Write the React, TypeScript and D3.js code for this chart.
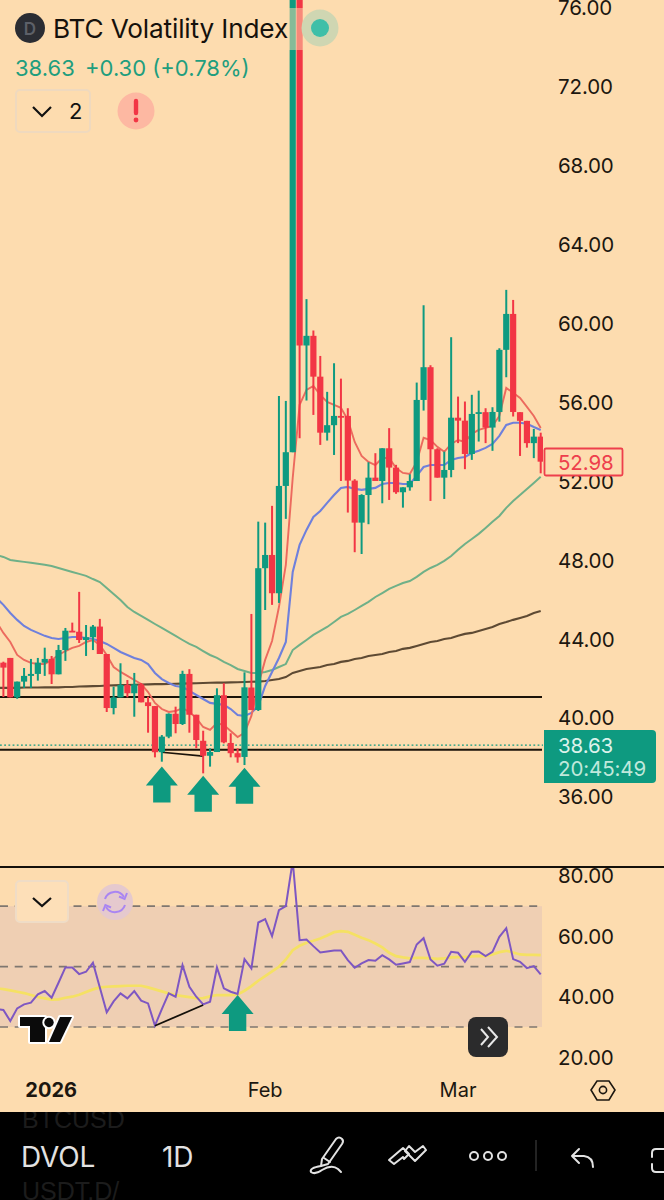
import React from "react";
import * as d3 from "d3";

const opens = [42.81,43.05,41.05,41.85,42.14,42.24,42.81,43.00,42.22,43.45,44.43,44.38,43.96,44.10,44.64,43.25,40.51,41.05,41.68,41.26,41.71,40.80,40.61,38.27,39.06,40.22,39.70,42.24,40.17,38.85,38.09,38.28,41.16,38.74,38.22,38.03,41.55,40.41,47.60,48.27,46.33,51.77,53.48,82.00,58.89,59.38,57.31,54.47,54.85,55.32,55.32,52.04,49.91,51.31,52.19,52.02,53.68,52.70,51.45,51.70,52.02,56.13,57.79,53.63,52.19,52.58,55.23,55.08,53.39,55.42,55.51,54.73,55.52,58.67,60.49,55.51,55.07,53.94,54.27];
const highs = [42.86,43.05,41.85,42.54,43.00,43.05,43.57,43.15,43.71,44.57,44.84,46.40,44.72,44.72,45.03,43.25,41.59,42.78,41.93,42.29,41.78,41.09,40.61,39.14,40.24,40.58,42.40,42.48,40.17,39.36,38.47,41.51,41.77,39.23,38.47,42.32,45.28,49.96,49.91,50.76,56.33,56.08,88.00,85.00,61.24,59.65,58.36,56.54,57.99,57.21,55.71,52.11,51.35,52.97,53.43,53.68,54.70,52.84,51.70,52.36,57.01,60.93,57.89,53.68,53.51,59.31,56.30,56.05,56.39,56.60,55.71,55.76,58.75,61.71,61.20,55.51,55.07,54.66,54.47];
const lows = [41.07,41.05,40.98,41.53,41.53,41.90,42.14,41.73,42.22,42.90,44.38,43.81,43.15,43.45,43.25,40.31,40.19,41.05,41.05,40.07,40.80,39.26,38.01,37.79,38.98,39.23,39.65,39.26,38.47,37.20,37.54,38.28,38.72,38.01,37.74,37.62,40.41,40.36,45.48,45.74,45.84,50.10,53.48,54.19,56.10,55.37,53.85,54.07,53.34,52.02,50.42,48.41,48.32,49.83,52.02,50.89,51.06,51.37,50.67,51.53,52.02,55.59,51.01,52.19,51.11,52.21,53.94,52.62,53.09,54.02,53.94,53.55,55.03,57.28,55.29,53.29,53.71,53.18,52.41];
const closes = [42.56,41.05,41.85,42.14,42.24,42.81,43.00,42.22,43.45,44.43,44.38,43.96,44.10,44.64,43.25,40.51,41.05,41.68,41.26,41.71,40.80,40.61,38.27,39.06,40.22,39.70,42.24,40.17,38.89,38.09,38.28,41.16,38.77,38.22,38.01,41.56,40.41,47.60,48.27,46.33,51.77,53.48,82.00,58.89,59.38,57.31,54.47,54.85,55.32,55.27,52.04,49.91,51.31,52.19,52.02,53.68,52.70,51.45,51.70,52.02,56.13,57.79,53.63,52.19,52.58,55.23,55.08,53.39,55.42,55.51,54.73,55.52,58.67,60.49,55.52,55.07,53.94,54.27,53.00];

// moving averages: the first value belongs to the bar just left of the picture
const maFast = [44.87,44.32,43.86,43.20,42.95,42.80,42.74,42.74,42.95,43.20,43.40,43.56,43.66,43.86,43.96,43.71,43.20,42.59,42.34,42.14,41.93,41.73,41.32,40.77,40.46,40.31,40.36,40.51,40.31,40.00,39.55,39.40,39.75,39.65,39.35,39.04,39.25,40.11,41.68,42.95,43.91,45.63,47.77,52.18,55.88,56.64,56.84,56.39,56.03,55.88,55.73,55.12,54.00,53.29,52.99,52.83,53.19,53.19,52.68,52.43,52.38,52.99,54.21,54.10,53.75,53.50,53.90,54.10,54.00,54.41,54.61,54.71,54.81,55.32,56.74,56.49,56.23,55.78,55.32,54.71];
const maMid = [46.09,45.74,45.33,44.98,44.67,44.47,44.32,44.17,44.06,44.01,44.06,44.11,44.11,44.06,44.01,43.91,43.76,43.56,43.35,43.20,43.05,42.95,42.74,42.29,41.98,41.78,41.63,41.58,41.38,41.17,40.97,40.77,40.72,40.67,40.46,40.16,40.11,40.26,40.62,41.63,42.34,43.05,43.86,47.41,48.78,49.54,50.20,50.50,50.91,51.31,51.67,51.72,51.62,51.57,51.62,51.67,51.87,51.92,51.92,51.87,51.87,52.28,52.73,52.83,52.83,52.83,53.09,53.19,53.24,53.44,53.55,53.70,53.90,54.31,54.86,54.97,54.97,54.92,54.76,54.61];
const maSlow = [48.27,48.17,48.02,47.97,47.92,47.87,47.82,47.77,47.71,47.61,47.51,47.41,47.31,47.21,47.05,46.90,46.60,46.29,45.99,45.63,45.38,45.18,44.98,44.77,44.57,44.37,44.17,43.96,43.76,43.61,43.40,43.20,43.05,42.85,42.69,42.49,42.39,42.29,42.29,42.34,42.44,42.59,42.74,43.45,43.71,43.96,44.22,44.42,44.62,44.87,45.13,45.28,45.48,45.69,45.89,46.14,46.34,46.55,46.70,46.85,46.95,47.16,47.41,47.61,47.77,47.97,48.22,48.53,48.83,49.08,49.34,49.64,49.95,50.25,50.66,51.01,51.31,51.62,51.92,52.23];
const maLong = [41.53,41.53,41.53,41.53,41.55,41.55,41.55,41.56,41.56,41.56,41.58,41.58,41.60,41.61,41.62,41.63,41.65,41.66,41.67,41.68,41.69,41.70,41.71,41.72,41.72,41.73,41.74,41.75,41.76,41.77,41.78,41.79,41.80,41.80,41.81,41.82,41.83,41.84,41.85,41.88,41.93,41.98,42.08,42.29,42.39,42.49,42.54,42.59,42.69,42.74,42.85,42.90,43.00,43.05,43.15,43.20,43.25,43.35,43.40,43.51,43.56,43.66,43.76,43.86,43.91,44.01,44.06,44.17,44.27,44.32,44.42,44.52,44.62,44.77,44.87,44.98,45.08,45.18,45.33,45.43];

const rsi = [35.95,35.62,31.98,36.17,37.49,38.04,40.80,41.90,39.70,44.66,49.72,49.72,47.52,48.29,51.27,43.11,34.85,38.48,41.13,39.48,41.90,38.71,37.82,30.44,35.95,41.13,40.03,50.50,43.33,40.03,37.49,38.37,49.72,42.78,41.68,40.91,52.48,49.39,64.60,65.70,60.08,68.68,70.00,85.00,58.76,58.98,56.78,54.68,55.01,55.34,55.34,52.15,49.61,51.05,52.15,51.93,53.80,52.37,50.61,51.05,51.49,57.33,59.42,52.37,50.28,50.94,54.90,54.57,51.60,54.90,55.01,53.47,54.90,59.86,62.73,52.48,51.60,49.50,50.17,47.41];
const rsiMa = [42.78,42.56,42.12,41.68,41.24,40.58,39.92,39.48,39.04,39.15,39.70,40.03,40.69,41.57,42.45,43.11,43.33,43.44,43.55,43.66,43.66,43.66,43.11,42.45,41.79,41.13,40.58,40.25,39.92,39.48,39.59,40.14,40.58,40.58,40.58,40.80,42.01,43.55,45.32,46.86,48.40,49.94,52.37,55.45,56.89,57.88,58.54,59.31,60.30,61.40,61.74,61.52,60.52,59.53,58.76,57.66,56.34,54.57,53.47,53.03,52.70,52.92,52.92,52.70,52.59,52.70,53.03,53.14,53.14,53.36,53.58,53.47,54.02,54.79,55.23,54.68,54.02,53.91,53.91,53.80];

const priceTicks = [76, 72, 68, 64, 60, 56, 52, 48, 44, 40, 36];
const rsiTicks = [80, 60, 40, 20];
const rsiLevels = [70, 50, 30];
const timeLabels = [{ text: "2026", bar: 2, bold: true }, { text: "Feb", bar: 38, bold: false }, { text: "Mar", bar: 66, bold: false }];
const supportLevels = [41.07, 38.39];
const lastPriceLevel = 38.63;
const arrowBars = [23, 29, 35];
const arrowTips = [37.54, 37.08, 37.48];
const rsiArrow = { bar: 34, tip: 40.6 };
const priceTrend = [{ bar: 23, value: 38.27 }, { bar: 29, value: 38.07 }];
const rsiTrend = [{ bar: 22, value: 30.4 }, { bar: 29, value: 37.3 }];

const BG = "#FDDCAF";
const UP = "#0E9A80";
const DOWN = "#F23645";
const FONT = "Inter, Roboto, sans-serif";
const PLOT_RIGHT = 543;
const AXIS_FS = 20.5;

const x = d3.scaleLinear().domain([0, 78]).range([3.4, 540.7]);
const yP = d3.scaleLinear().domain([36, 76]).range([797, 8]);
const yR = d3.scaleLinear().domain([30, 80]).range([1027, 876]);

const maLine = d3.line<number>().x((_, i) => x(i - 1)).y((d) => yP(d));
const rsiLine = d3.line<number>().x((_, i) => x(i - 1)).y((d) => yR(d));

function Arrow({ cx, tip, fill }: { cx: number; tip: number; fill: string }) {
  const p = d3.path();
  p.moveTo(cx, tip);
  p.lineTo(cx + 16, tip + 19);
  p.lineTo(cx + 8.7, tip + 19);
  p.lineTo(cx + 8.7, tip + 36);
  p.lineTo(cx - 8.7, tip + 36);
  p.lineTo(cx - 8.7, tip + 19);
  p.lineTo(cx - 16, tip + 19);
  p.closePath();
  return <path d={p.toString()} fill={fill} />;
}

export default function App() {
  return (
    <svg width={664} height={1200} viewBox="0 0 664 1200" style={{ position: "absolute", left: 0, top: 0, display: "block" }} fontFamily={FONT}>
      <defs>
        <clipPath id="pricePane"><rect x={0} y={0} width={PLOT_RIGHT} height={866} /></clipPath>
        <clipPath id="rsiPane"><rect x={0} y={868} width={PLOT_RIGHT} height={190} /></clipPath>
        <clipPath id="ghost"><rect x={0} y={1112} width={132} height={88} /></clipPath>
      </defs>
      <rect width={664} height={1200} fill={BG} />

      <g clipPath="url(#pricePane)">
        {supportLevels.map((v) => (
          <line key={v} x1={0} x2={PLOT_RIGHT - 1} y1={yP(v)} y2={yP(v)} stroke="#1a1208" strokeWidth={2} />
        ))}
        <line x1={0} x2={PLOT_RIGHT} y1={yP(lastPriceLevel)} y2={yP(lastPriceLevel)} stroke={UP} strokeWidth={1.4} strokeDasharray="1.8 2.4" />
        <path d={maLine(maLong) ?? ""} fill="none" stroke="#5E4A33" strokeWidth={2.1} />
        <path d={maLine(maSlow) ?? ""} fill="none" stroke="#6FB088" strokeWidth={2} />
        <path d={maLine(maMid) ?? ""} fill="none" stroke="#6F80DC" strokeWidth={2.1} />
        <path d={maLine(maFast) ?? ""} fill="none" stroke="#EC6A5E" strokeWidth={1.9} />
        <path d={d3.line<{ bar: number; value: number }>().x((d) => x(d.bar)).y((d) => yP(d.value))(priceTrend) ?? ""} fill="none" stroke="#1a1208" strokeWidth={1.6} />

        {opens.map((o, i) => {
          const c = closes[i];
          const col = c >= o ? UP : DOWN;
          const top = yP(Math.max(o, c));
          const bot = yP(Math.min(o, c));
          return (
            <g key={i}>
              <line x1={x(i)} x2={x(i)} y1={yP(highs[i])} y2={yP(lows[i])} stroke={col} strokeWidth={2} />
              <rect x={x(i) - 3.1} y={top} width={6.2} height={Math.max(bot - top, 1.8)} fill={col} />
            </g>
          );
        })}

        {arrowBars.map((b, k) => (
          <Arrow key={b} cx={x(b)} tip={yP(arrowTips[k])} fill={UP} />
        ))}
      </g>

      {/* legend */}
      <rect x={288} y={8} width={15} height={42} fill={BG} opacity={0.5} />
      <circle cx={30} cy={28} r={15} fill="#2B2D33" />
      <text x={30} y={34.5} textAnchor="middle" fontSize={17} fontWeight={600} fill="#5d6068">D</text>
      <text x={53} y={38} fontSize={26.2} fill="#15110c" letterSpacing={-0.15}>BTC Volatility Index</text>
      <text x={15} y={76} fontSize={22} fill="#1F9E7E">38.63</text>
      <text x={85} y={76} fontSize={22} fill="#1F9E7E">+0.30 (+0.78%)</text>
      <rect x={16} y={90} width={74} height={42} rx={4} fill="none" stroke="#EFD9BE" strokeWidth={2} />
      <path d="M33 107 L42 116 L51 107" fill="none" stroke="#111" strokeWidth={2.2} />
      <text x={69} y={119} fontSize={22} fill="#111">2</text>
      <circle cx={136} cy={111} r={18.5} fill="#FDB8A2" />
      <path d="M136 101 L136 113" stroke="#F23645" strokeWidth={4.4} strokeLinecap="round" />
      <circle cx={136} cy={120} r={2.4} fill="#F23645" />
      <circle cx={320} cy={28} r={18.5} fill="#CFD6B2" />
      <circle cx={320} cy={28} r={9} fill="#3FBFA8" />

      {/* pane split */}
      <line x1={0} x2={664} y1={867} y2={867} stroke="#14100a" strokeWidth={2} />

      {/* RSI pane */}
      <rect x={0} y={yR(70)} width={PLOT_RIGHT - 1} height={yR(30) - yR(70)} fill="#EFCFB3" />
      {rsiLevels.map((v) => (
        <line key={v} x1={0} x2={PLOT_RIGHT - 1} y1={yR(v)} y2={yR(v)} stroke="#7f7770" strokeWidth={1.7} strokeDasharray="8 6.7" />
      ))}
      <g clipPath="url(#rsiPane)">
        <path d={rsiLine(rsiMa) ?? ""} fill="none" stroke="#F5E163" strokeWidth={2.7} />
        <path d={rsiLine(rsi) ?? ""} fill="none" stroke="#7E57C2" strokeWidth={2} />
        <path d={d3.line<{ bar: number; value: number }>().x((d) => x(d.bar)).y((d) => yR(d.value))(rsiTrend) ?? ""} fill="none" stroke="#14100a" strokeWidth={1.8} />
        <Arrow cx={x(rsiArrow.bar)} tip={yR(rsiArrow.tip)} fill={UP} />
      </g>

      <rect x={16} y={881} width={52} height={41} rx={4} fill="#FDDFB8" stroke="#EFDCC6" strokeWidth={2} />
      <path d="M33 898 L42 906 L51 898" fill="none" stroke="#111" strokeWidth={2.2} />
      <circle cx={115} cy={902} r={18} fill="#E5C9CE" />
      <g fill="none" stroke="#A985F2" strokeWidth={2}>
        <path d="M105 899 A10.5 10.5 0 0 1 124 897" />
        <path d="M125 905 A10.5 10.5 0 0 1 106 907" />
        <path d="M127 893 L124.6 899 L119 896.5" />
        <path d="M103 911 L105.4 905 L111 907.5" />
      </g>

      {/* TradingView mark */}
      <g fill="#0B0B0B" stroke="#FFFFFF" strokeWidth={4} strokeLinejoin="round" paintOrder="stroke">
        <path d="M20 1017 L45 1017 L45 1042 L30 1042 L30 1026 L20 1026 Z" />
        <circle cx={49} cy={1022.5} r={4.7} />
        <path d="M60 1017 L72 1017 L60 1042 L49 1042 Z" />
      </g>

      <rect x={468} y={1017} width={40} height={40} rx={8} fill="#2B2B2C" />
      <g fill="none" stroke="#E8E8E8" strokeWidth={2}>
        <path d="M481 1029 L488 1037 L481 1045" />
        <path d="M488 1027 L497 1037 L488 1047" />
      </g>

      {/* price axis */}
      {priceTicks.map((t) => (
        <text key={t} x={558} y={yP(t)} dy="0.36em" fontSize={AXIS_FS} fill="#1c1710" letterSpacing={-0.1}>{t.toFixed(2)}</text>
      ))}
      {rsiTicks.map((t) => (
        <text key={t} x={558} y={yR(t)} dy="0.36em" fontSize={AXIS_FS} fill="#1c1710" letterSpacing={-0.1}>{t.toFixed(2)}</text>
      ))}

      <rect x={544.5} y={448.5} width={78} height={27} rx={1.5} fill={BG} stroke="#EE3F4C" strokeWidth={1.8} />
      <text x={558} y={462.5} dy="0.36em" fontSize={AXIS_FS} fill="#EE3F4C" letterSpacing={-0.1}>52.98</text>

      <path d="M544 730 L652 730 Q656 730 656 734 L656 779 Q656 783 652 783 L544 783 Z" fill={UP} />
      <text x={558} y={746} dy="0.36em" fontSize={AXIS_FS} fill="#DDF2EB" letterSpacing={-0.1}>38.63</text>
      <text x={558} y={769} dy="0.36em" fontSize={AXIS_FS} fill="#BFE8DB" letterSpacing={-0.1}>20:45:49</text>

      {/* time axis */}
      {timeLabels.map((l) => (
        <text key={l.text} x={x(l.bar) + (l.bold ? 34 : 0)} y={1090} dy="0.36em" textAnchor="middle" fontSize={20} fontWeight={l.bold ? 700 : 400} fill="#1c1710">{l.text}</text>
      ))}
      <path d="M597 1081 L609 1081 L615 1090 L609 1100 L597 1100 L591 1090 Z" fill="none" stroke="#1c1710" strokeWidth={1.6} />
      <circle cx={603} cy={1090} r={3.6} fill="none" stroke="#1c1710" strokeWidth={1.6} />

      {/* bottom bar */}
      <rect x={0} y={1112} width={664} height={88} fill="#000" />
      <g clipPath="url(#ghost)">
        <text x={22} y={1128} fontSize={25} fill="#1C1C1C" fontFamily="Liberation Sans, sans-serif">BTCUSD</text>
        <text x={22} y={1200} fontSize={25} fill="#1C1C1C" fontFamily="Liberation Sans, sans-serif">USDT.D/</text>
      </g>
      <text x={21} y={1167} fontSize={28} fill="#E2E2E2" letterSpacing={-0.2}>DVOL</text>
      <text x={162} y={1167} fontSize={28} fill="#E2E2E2" letterSpacing={-0.2}>1D</text>
      <g fill="none" stroke="#E2E2E2" strokeWidth={2} strokeLinejoin="round" strokeLinecap="round">
        <path d="M322 1159 L336 1139 Q339 1136 342 1139 Q344 1141 342 1144 L328 1164 L321 1166 Z" />
        <path d="M324 1158 L330 1162" />
        <path d="M321 1166 Q309 1168 311 1172 Q315 1175 322 1170 Q332 1164 338 1169 L341 1172" />
        <path d="M389 1160 L403 1148 L409 1154 L404 1159 L403 1157 L394 1164 Z" />
        <path d="M409 1146 L415 1152 L423 1146 L426 1150 L415 1161 L405 1151 Z" />
        <circle cx={474} cy={1156} r={4} />
        <circle cx={488} cy={1156} r={4} />
        <circle cx={502} cy={1156} r={4} />
        <path d="M572 1156 L579 1149 M572 1156 L579 1163 M572 1156 L584 1156 Q593 1157 593 1167" />
        <path d="M664 1149 L656 1149 Q652 1149 652 1153 L652 1157 M652 1164 L652 1168 Q652 1172 656 1172 L664 1172" />
      </g>
      <line x1={536} x2={536} y1={1140} y2={1171} stroke="#333" strokeWidth={1.4} />
    </svg>
  );
}
